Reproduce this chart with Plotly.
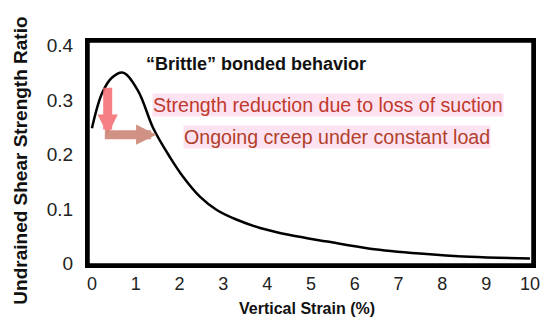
import plotly.graph_objects as go

strain = [0.0, 0.23, 0.46, 0.71, 1.05, 1.40, 1.78, 2.08, 2.47, 2.85, 3.31, 3.84, 4.52, 5.37, 6.35, 7.49, 8.63, 10.0]
ratio = [0.248, 0.312, 0.341, 0.350, 0.317, 0.248, 0.195, 0.159, 0.122, 0.098, 0.080, 0.065, 0.052, 0.040, 0.027, 0.018, 0.012, 0.009]

x_ticks = [0, 1, 2, 3, 4, 5, 6, 7, 8, 9, 10]
y_ticks = [0, 0.1, 0.2, 0.3, 0.4]
y_tick_text = ["0", "0.1", "0.2", "0.3", "0.4"]

FONT = "Arial, Liberation Sans, sans-serif"

fig = go.Figure()
fig.add_trace(go.Scatter(x=strain, y=ratio, mode="lines",
                         line=dict(color="black", width=2.5, shape="spline", smoothing=1.0),
                         hoverinfo="skip", showlegend=False))

# plot frame
fig.add_shape(type="rect", xref="paper", yref="paper", x0=0, y0=0, x1=1, y1=1,
              line=dict(color="#000000", width=3.5), fillcolor="rgba(0,0,0,0)", layer="above")

# arrows
fig.add_annotation(x=0.36, y=0.236, ax=0.36, ay=0.325, xref="x", yref="y", axref="x", ayref="y",
                   showarrow=True, arrowhead=2, arrowsize=0.45, arrowwidth=9,
                   arrowcolor="rgba(245,105,110,0.85)", text="")
fig.add_annotation(x=1.47, y=0.236, ax=0.26, ay=0.236, xref="x", yref="y", axref="x", ayref="y",
                   showarrow=True, arrowhead=2, arrowsize=0.45, arrowwidth=9,
                   arrowcolor="rgba(205,135,120,0.9)", text="")

fig.add_annotation(x=1.19, y=0.366, xref="x", yref="y", xanchor="left", yanchor="middle",
                   text="<b>“Brittle” bonded behavior</b>", showarrow=False,
                   font=dict(family=FONT, size=18, color="#111"))
fig.add_annotation(x=1.37, y=0.290, xref="x", yref="y", xanchor="left", yanchor="middle",
                   text="Strength reduction due to loss of suction", showarrow=False,
                   bgcolor="#fde3f1", borderpad=0,
                   font=dict(family=FONT, size=19.6, color="#c0392b"))
fig.add_annotation(x=2.07, y=0.232, xref="x", yref="y", xanchor="left", yanchor="middle",
                   text="Ongoing creep under constant load", showarrow=False,
                   bgcolor="#fde3f1", borderpad=0,
                   font=dict(family=FONT, size=19.6, color="#b2402a"))

# axis titles
fig.add_annotation(x=0.493, y=-0.195, xref="paper", yref="paper", xanchor="center", yanchor="middle",
                   text="<b>Vertical Strain (%)</b>", showarrow=False,
                   font=dict(family=FONT, size=16, color="#111"))
fig.add_annotation(x=-0.151, y=0.465, xref="paper", yref="paper", xanchor="center", yanchor="middle",
                   text="<b>Undrained Shear Strength Ratio</b>", showarrow=False, textangle=-90,
                   font=dict(family=FONT, size=19, color="#111"))

# page body has an 8px margin, so the figure is drawn 8px in from the top-left
fig.update_layout(
    width=542, height=312,
    margin=dict(l=80, r=17, t=33, b=55, autoexpand=False),
    plot_bgcolor="white", paper_bgcolor="white",
    font=dict(family=FONT, color="#222"),
    xaxis=dict(range=[-0.09, 10.07], tickvals=x_ticks, showgrid=False, zeroline=False,
               showline=True, mirror=True, linecolor="black", linewidth=3, ticks="", automargin=False,
               tickfont=dict(size=18, color="#222")),
    yaxis=dict(range=[-0.003, 0.408], tickvals=y_ticks, ticktext=y_tick_text, showgrid=False, zeroline=False,
               showline=True, mirror=True, linecolor="black", linewidth=3, ticks="", automargin=False,
               ticklabelstandoff=8,
               tickfont=dict(size=19, color="#222")),
)

fig.write_html("out.html")
